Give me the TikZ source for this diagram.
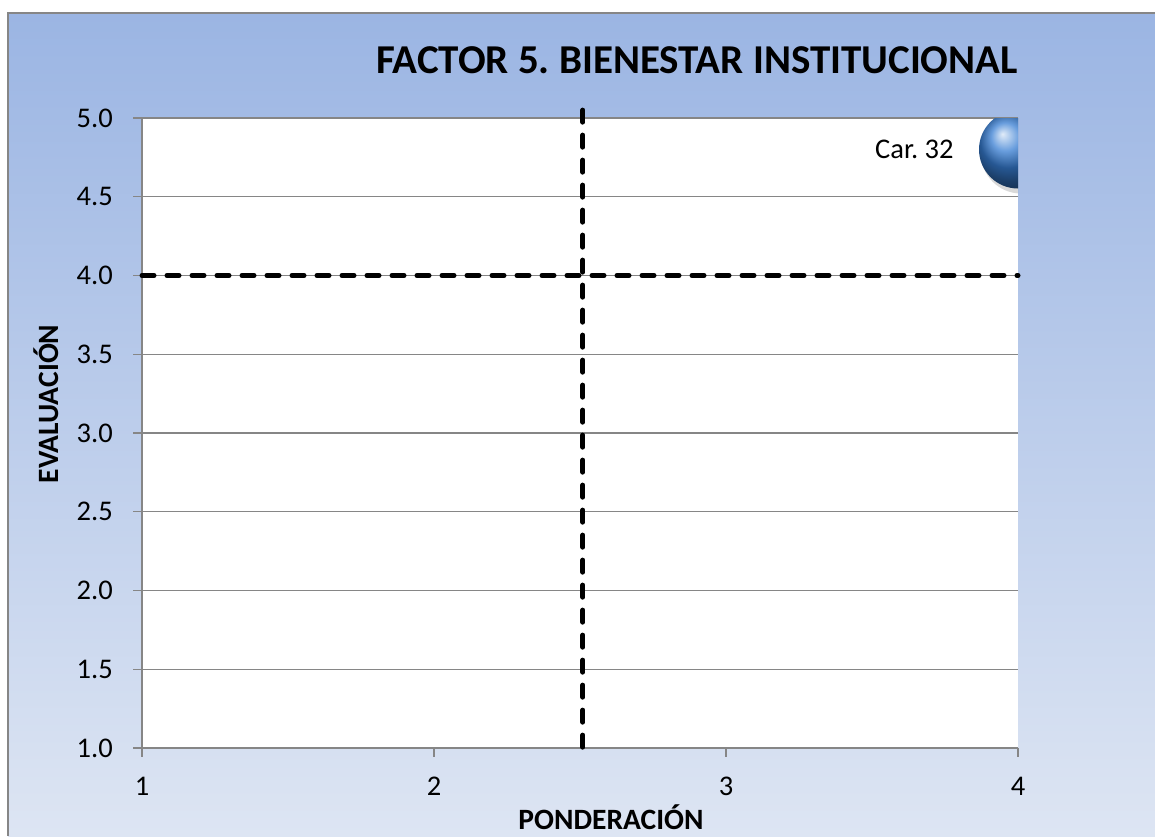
\documentclass[tikz,border=0pt]{standalone}
\usepackage{fontspec}
\setmainfont{Carlito}
\usetikzlibrary{positioning,calc}
\frenchspacing
\definecolor{chartTop}{RGB}{155,181,227}
\definecolor{chartBottom}{RGB}{221,229,243}
\definecolor{gridGrey}{RGB}{134,134,134}
\definecolor{ballBlue}{RGB}{55,125,210}
\tikzstyle{TICKLABEL} = [font=\fontsize{28.5}{33}\selectfont, inner sep=0pt]
\tikzstyle{AXISLABEL} = [font=\bfseries\fontsize{29.5}{34}\selectfont, inner sep=0pt]
\tikzstyle{TITLE} = [font=\bfseries\fontsize{41}{49}\selectfont, inner sep=0pt]
\tikzstyle{GRID} = [draw=gridGrey, line width=1.3pt]
\tikzstyle{QUADRANT} = [draw=black, line width=5pt, line cap=round, dash pattern=on 12pt off 13pt]
\tikzstyle{BUBBLE} = [circle, minimum size=78pt, inner sep=0pt, shading=ball, ball color=ballBlue]

\begin{document}
\begin{tikzpicture}[x=1pt, y=-1pt]
% Frame
\useasboundingbox (0,0) rectangle (1155,836);
\shade[top color=chartTop, bottom color=chartBottom] (8,13) rectangle (1155,836);
\draw[gridGrey, line width=1.5pt] (8,836) |- (1155,13);
% Titles
\node [TITLE] (TITLE) at (697,60) {FACTOR 5. BIENESTAR INSTITUCIONAL};
\node [AXISLABEL, rotate=90] (YTITLE) at (46,404) {EVALUACIÓN};
\node [AXISLABEL] (XTITLE) at (611,817) {PONDERACIÓN};
% Plot area, data units
\begin{scope}[shift={(142,748)}, x=292pt, y=157.5pt, shift={(-1,-1)}]
\fill[white] (1,1) rectangle (4,5);
\foreach \v [count=\i] in {1.0,1.5,2.0,2.5,3.0,3.5,4.0,4.5,5.0} {
  \draw[GRID] (1,\v) -- (4,\v);
  \draw[GRID] (1,\v) -- ++(-9pt,0);
  \node [TICKLABEL, anchor=east] (YLAB\i) at ([xshift=-29pt]1,\v) {\v};
}
\draw[GRID] (1,1) -- (1,5);
\foreach \u in {1,2,3,4} {
  \draw[GRID] (\u,1) -- ++(0,-9pt);
  \node [TICKLABEL] (XLAB\u) at ([yshift=-38pt]\u,1) {\u};
}
% Bubble
\begin{scope}
\clip (1,1) rectangle (4,5);
\fill[black, opacity=0.15] ([xshift=3pt,yshift=-4pt]4,4.8) circle (40pt);
\node [BUBBLE] (CAR32) at (4,4.8) {};
\end{scope}
\node [TICKLABEL, left=25pt of CAR32] (CAR32LAB) {Car. 32};
% Quadrant lines
\draw[QUADRANT] (1,4) -- (4,4);
\draw[QUADRANT] (2.51,5.05) -- (2.51,1);
\end{scope}
\end{tikzpicture}
\end{document}
